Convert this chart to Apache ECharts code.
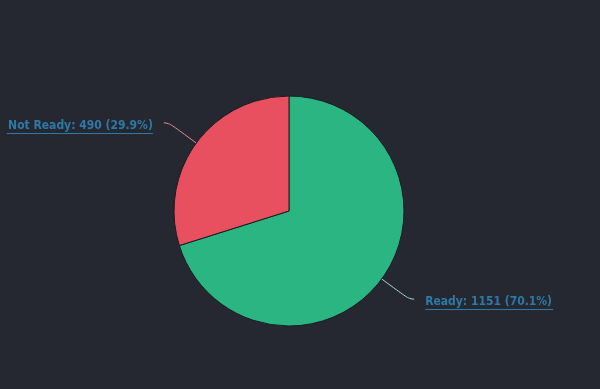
<!DOCTYPE html>
<html><head><meta charset="utf-8">
<script src="https://cdn.jsdelivr.net/npm/echarts@6/dist/echarts.min.js"></script>
<style>html,body{margin:0;padding:0;background:#252830;}#c{width:600px;height:389px;}</style>
</head><body><div id="c"></div>
<script>
const categories = ['Ready', 'Not Ready'];
const values = [1151, 490];
const colors = ['#2bb583', '#e9505f'];
const lineColors = ['#a8d8c6', '#e58a98'];

const total = values.reduce((a, b) => a + b, 0);
const chart = echarts.init(document.getElementById('c'), null, {renderer: 'canvas'});
const FONT = 'DejaVu Sans Condensed';
chart.setOption({
  backgroundColor: '#252830',
  animation: false,
  series: [{
    type: 'pie',
    center: [289, 211],
    radius: 115,
    startAngle: 90,
    clockwise: true,
    avoidLabelOverlap: false,
    itemStyle: {borderColor: '#1a1c22', borderWidth: 1},
    label: {
      show: true,
      position: 'outside',
      distanceToLabelLine: 11,
      padding: [6, 0, 0, 0],
      fontFamily: FONT,
      fontWeight: 'bold',
      fontSize: 12,
      color: '#2e7aa6',
      formatter: p => {
        const t = p.name + ': ' + p.value + ' (' + (p.value / total * 100).toFixed(1) + '%)';
        return '{t|' + t + '}\n{u|}';
      },
      rich: {
        t: {fontFamily: FONT, fontWeight: 'bold', fontSize: 12, color: '#2e7aa6', lineHeight: 15},
        u: {height: 1, lineHeight: 1, width: 146, backgroundColor: '#2e7aa6'}
      }
    },
    labelLine: {show: true, length: 34, length2: 5, smooth: 0.6, lineStyle: {width: 1}},
    data: categories.map((c, i) => ({
      name: c, value: values[i],
      itemStyle: {color: colors[i]},
      labelLine: {lineStyle: {color: lineColors[i]}},
      label: {rich: {u: {width: i === 0 ? 128 : 146}}}
    }))
  }]
});
</script></body></html>
